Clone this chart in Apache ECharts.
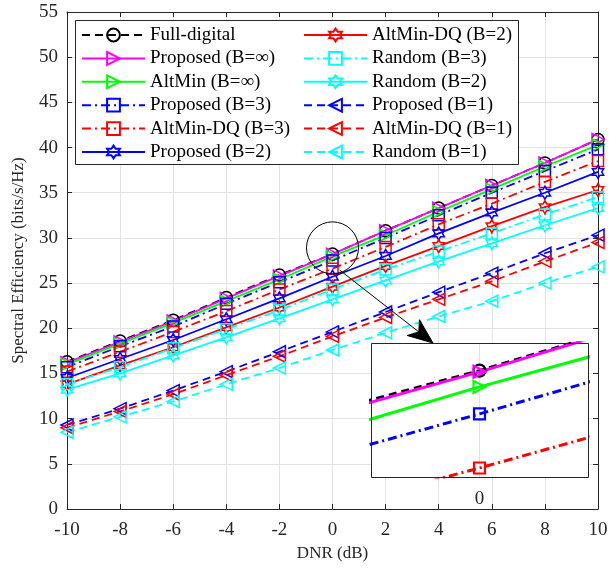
<!DOCTYPE html>
<html><head><meta charset="utf-8">
<script src="https://cdn.jsdelivr.net/npm/echarts@6/dist/echarts.min.js"></script>
<style>html,body{margin:0;padding:0;background:#fff}#c{width:615px;height:569px}</style>
</head><body><div id="c"></div>
<script>
// ---- data ----
const dnr = [-10, -8, -6, -4, -2, 0, 2, 4, 6, 8, 10];
const xTicks = ['-10','-8','-6','-4','-2','0','2','4','6','8','10'];
const fullDigital = [16.3, 18.6, 20.9, 23.4, 25.9, 28.22, 30.8, 33.3, 35.8, 38.3, 40.9];
const proposedInf = [16.2, 18.5, 20.8, 23.3, 25.8, 28.2, 30.8, 33.3, 35.8, 38.3, 40.9];
const altMinInf   = [16.0, 18.3, 20.6, 23.0, 25.4, 27.95, 30.3, 32.9, 35.4, 37.9, 40.3];
const proposedB3  = [15.7, 18.0, 20.2, 22.7, 25.1, 27.5, 30.0, 32.5, 35.0, 37.4, 39.8];
const altMinDQB3  = [15.2, 17.4, 19.6, 21.9, 24.3, 26.6, 29.0, 31.5, 33.8, 36.2, 38.5];
const proposedB2  = [14.5, 16.6, 18.7, 21.0, 23.3, 25.7, 28.0, 30.5, 32.8, 35.0, 37.3];
const altMinDQB2  = [13.8, 15.9, 17.9, 20.1, 22.3, 24.6, 26.9, 29.1, 31.3, 33.4, 35.3];
const randomB3    = [13.8, 15.7, 17.8, 19.9, 22.0, 24.3, 26.5, 28.5, 30.5, 32.6, 34.5];
const randomB2    = [13.2, 15.0, 17.0, 19.0, 21.1, 23.2, 25.3, 27.4, 29.4, 31.4, 33.3];
const proposedB1  = [9.3, 11.1, 13.1, 15.2, 17.4, 19.6, 21.8, 24.0, 26.1, 28.3, 30.3];
const altMinDQB1  = [9.0, 10.8, 12.7, 14.8, 16.9, 19.1, 21.2, 23.2, 25.2, 27.4, 29.5];
const randomB1    = [8.5, 10.2, 11.9, 13.8, 15.6, 17.6, 19.5, 21.3, 23.0, 25.0, 26.8];
const seriesNames = ['Full-digital','Proposed (B=\u221e)','AltMin (B=\u221e)','Proposed (B=3)','AltMin-DQ (B=3)','Proposed (B=2)',
  'AltMin-DQ (B=2)','Random (B=3)','Random (B=2)','Proposed (B=1)','AltMin-DQ (B=1)','Random (B=1)'];

// ---- styles ----
const triR = 'path://M-1,-1L1,0L-1,1Z';
const triL = 'path://M1,-1L-1,0L1,1Z';
const hexa = 'path://M0,-1L0.289,-0.5L0.866,-0.5L0.577,0L0.866,0.5L0.289,0.5L0,1L-0.289,0.5L-0.866,0.5L-0.577,0L-0.866,-0.5L-0.289,-0.5Z';
const DASH = [8, 5], DASHDOT = [9, 4, 2, 4];
const styles = [
  {c:'#000000', s:'circle', d:DASH},
  {c:'#ff00ff', s:triR, d:'solid'},
  {c:'#00ff00', s:triR, d:'solid'},
  {c:'#0000ff', s:'rect', d:DASHDOT},
  {c:'#ff0000', s:'rect', d:DASHDOT},
  {c:'#0000ff', s:hexa, d:'solid'},
  {c:'#ff0000', s:hexa, d:'solid'},
  {c:'#00ffff', s:'rect', d:DASHDOT},
  {c:'#00ffff', s:hexa, d:'solid'},
  {c:'#0000ff', s:triL, d:DASH},
  {c:'#ff0000', s:triL, d:DASH},
  {c:'#00ffff', s:triL, d:DASH}
];
const values = [fullDigital, proposedInf, altMinInf, proposedB3, altMinDQB3, proposedB2,
  altMinDQB2, randomB3, randomB2, proposedB1, altMinDQB1, randomB1];

const FONT = 'Liberation Serif';
const AX = '#262626';
const GRIDC = '#e3e3e3';
const FS = 19;

function mkSeries(i, inset) {
  const st = styles[i];
  return {
    name: seriesNames[i], type: 'line',
    xAxisIndex: inset ? 2 : 0, yAxisIndex: inset ? 2 : 0,
    data: dnr.map((x, k) => [x, values[i][k]]),
    color: st.c,
    symbol: st.s, symbolSize: st.s === hexa ? 13 : (st.s === 'rect' ? 11 : 12),
    symbolKeepAspect: true, showAllSymbol: true,
    lineStyle: {color: st.c, width: inset ? 3 : 1.8, type: st.d},
    itemStyle: {color: 'transparent', borderColor: st.c, borderWidth: inset ? 2.2 : 1.5},
    emphasis: {disabled: true}, animation: false, clip: true,
    z: inset ? 10 : 2
  };
}

const series = [];
for (let i = 0; i < 12; i++) series.push(mkSeries(i, false));
for (let i = 0; i < 12; i++) series.push(mkSeries(i, true));

const lab = {fontFamily: FONT, fontSize: FS, color: AX};
const nameLab = {fontFamily: FONT, fontSize: 17, color: AX};
const INSET = {left: 371, top: 343, width: 217, height: 134};

const legendCommon = {
  orient: 'vertical', top: 25.5, itemWidth: 63, itemHeight: 16, itemGap: 4.4,
  padding: 0, textStyle: {fontFamily: FONT, fontSize: FS, color: '#000'},
  selectedMode: false, z: 20, inactiveColor: '#000'
};

const chart = echarts.init(document.getElementById('c'), null, {renderer: 'canvas'});
chart.setOption({
  animation: false,
  backgroundColor: '#fff',
  grid: [
    {left: 67, right: 17, top: 12, bottom: 60},
    {left: INSET.left, top: INSET.top, width: INSET.width, height: INSET.height}
  ],
  legend: [
    Object.assign({left: 81, data: seriesNames.slice(0, 6)}, legendCommon),
    Object.assign({left: 303, data: seriesNames.slice(6)}, legendCommon)
  ],
  xAxis: [
    {gridIndex: 0, type: 'value', min: -10, max: 10, interval: 2,
     name: 'DNR (dB)', nameLocation: 'middle', nameGap: 33, nameTextStyle: nameLab,
     axisLine: {show: true, onZero: false, lineStyle: {color: AX, width: 1}},
     axisTick: {show: true, inside: true, length: 5, lineStyle: {color: AX}},
     axisLabel: Object.assign({margin: 12, formatter: v => xTicks[dnr.indexOf(v)] ?? String(v)}, lab),
     splitLine: {show: true, lineStyle: {color: GRIDC, width: 1}}},
    {gridIndex: 0, type: 'value', position: 'top', min: -10, max: 10, interval: 2,
     axisLine: {show: true, onZero: false, lineStyle: {color: AX, width: 1}},
     axisTick: {show: true, inside: true, length: 5, lineStyle: {color: AX}},
     axisLabel: {show: false}, splitLine: {show: false}},
    {gridIndex: 1, type: 'value', min: -0.42, max: 0.42, interval: 0.42, z: 10,
     axisLine: {show: false}, axisTick: {show: false},
     axisLabel: Object.assign({margin: 13, showMinLabel: false, showMaxLabel: false,
        formatter: v => Math.abs(v) < 1e-9 ? '0' : ''}, lab),
     splitLine: {show: true, lineStyle: {color: GRIDC, width: 1}}}
  ],
  yAxis: [
    {gridIndex: 0, type: 'value', min: 0, max: 55, interval: 5,
     name: 'Spectral Efficiency (bits/s/Hz)', nameLocation: 'middle', nameGap: 40, nameTextStyle: nameLab,
     axisLine: {show: true, onZero: false, lineStyle: {color: AX, width: 1}},
     axisTick: {show: true, inside: true, length: 5, lineStyle: {color: AX}},
     axisLabel: Object.assign({margin: 9}, lab),
     splitLine: {show: true, lineStyle: {color: GRIDC, width: 1}}},
    {gridIndex: 0, type: 'value', position: 'right', min: 0, max: 55, interval: 5,
     axisLine: {show: true, onZero: false, lineStyle: {color: AX, width: 1}},
     axisTick: {show: true, inside: true, length: 5, lineStyle: {color: AX}},
     axisLabel: {show: false}, splitLine: {show: false}},
    {gridIndex: 1, type: 'value', min: 26.45, max: 28.68, z: 10,
     axisLine: {show: false}, axisTick: {show: false}, axisLabel: {show: false}, splitLine: {show: false}}
  ],
  series: series
});

// annotation: circle on main plot, arrow to inset, white inset background and frames
const c = chart.convertToPixel({xAxisIndex: 0, yAxisIndex: 0}, [0, 28.9]);
const R = 26;
const start = [c[0] + 7.5, c[1] + 22.5];
const tip = [INSET.left + 62, INSET.top];
const dx = tip[0] - start[0], dy = tip[1] - start[1];
const L = Math.hypot(dx, dy), ux = dx / L, uy = dy / L, px = -uy, py = ux;
const hl = 25, hw = 10, notch = 7;
const b1 = [tip[0] - ux * hl + px * hw, tip[1] - uy * hl + py * hw];
const b2 = [tip[0] - ux * hl - px * hw, tip[1] - uy * hl - py * hw];
const bn = [tip[0] - ux * (hl - notch), tip[1] - uy * (hl - notch)];

chart.setOption({
  graphic: [
    {type: 'rect', z: 5, silent: true, shape: {x: INSET.left, y: INSET.top, width: INSET.width, height: INSET.height},
     style: {fill: '#fff', stroke: null}},
    {type: 'rect', z: 30, silent: true, shape: {x: INSET.left + 0.5, y: INSET.top + 0.5, width: INSET.width, height: INSET.height},
     style: {fill: null, stroke: AX, lineWidth: 1}},
    {type: 'rect', z: 15, silent: true, shape: {x: 75.5, y: 20.5, width: 443, height: 144},
     style: {fill: '#fff', stroke: AX, lineWidth: 1}},
    {type: 'circle', z: 30, silent: true, shape: {cx: c[0], cy: c[1], r: R},
     style: {fill: null, stroke: '#000', lineWidth: 1}},
    {type: 'line', z: 30, silent: true, shape: {x1: start[0], y1: start[1], x2: bn[0], y2: bn[1]},
     style: {stroke: '#000', lineWidth: 1}},
    {type: 'polygon', z: 30, silent: true, shape: {points: [tip, b1, bn, b2]},
     style: {fill: '#000', stroke: '#000', lineWidth: 1}}
  ]
});
</script>
</body></html>
